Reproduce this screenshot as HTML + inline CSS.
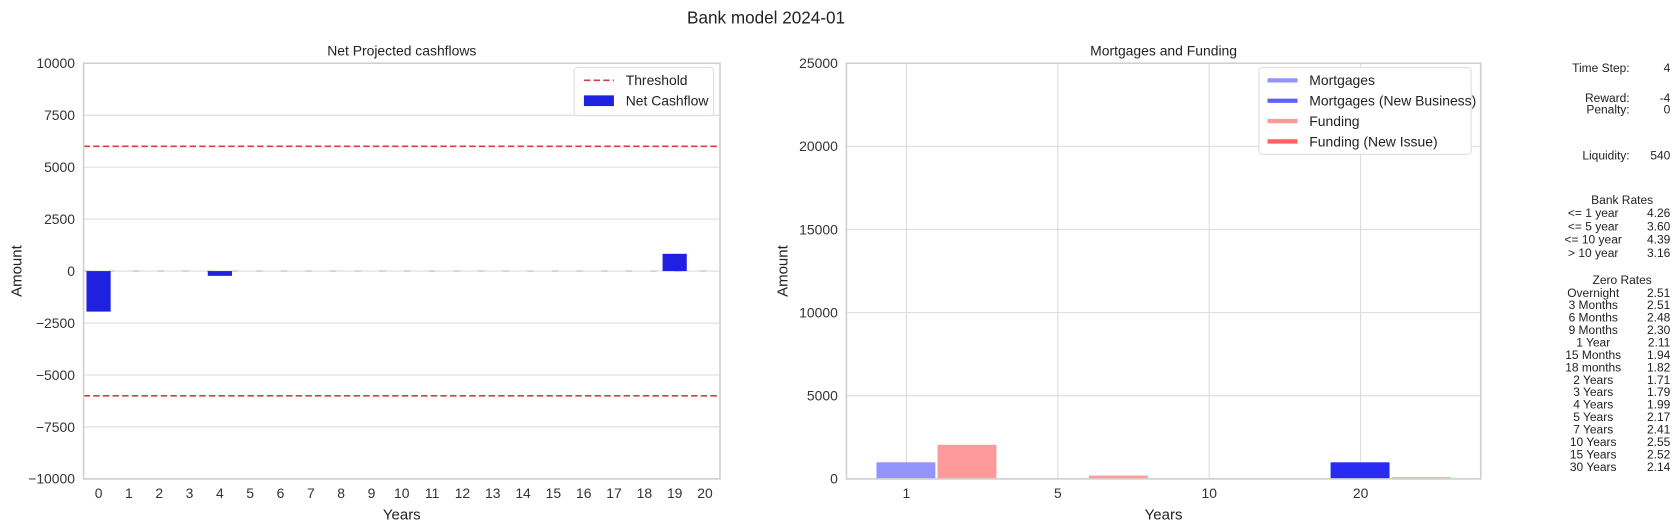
<!DOCTYPE html>
<html><head><meta charset="utf-8"><style>
body{margin:0;background:#fff;}
svg{font-family:"Liberation Sans",sans-serif;display:block;}
</style></head><body>
<svg id="s" width="1680" height="531" viewBox="0 0 1568 495.6" preserveAspectRatio="none" xmlns="http://www.w3.org/2000/svg">
<text x="715" y="22" font-size="16" text-anchor="middle" fill="#222">Bank model 2024-01</text>
<g id="left"></g>
<g id="right"></g>
<g id="panel"></g>
</svg>
<script>
const netYears=[0,1,2,3,4,5,6,7,8,9,10,11,12,13,14,15,16,17,18,19,20];
const netValues=[-1950,0,0,0,-230,0,0,0,0,0,0,0,0,0,0,0,0,0,0,830,0];
const leftTicks=[10000,7500,5000,2500,0,-2500,-5000,-7500,-10000];
const thresholds=[6000,-6000];
const rCats=["1","5","10","20"];
const mortgages=[1000,0,0,0];
const mortgagesNew=[0,0,0,1000];
const funding=[2050,200,0,100];
const fundingNew=[0,0,0,0];
const rightTicks=[25000,20000,15000,10000,5000,0];
const stats=[["Time Step:","4",63],["Reward:","-4",91],["Penalty:","0",102],["Liquidity:","540",145]];
const bankLabels=["<= 1 year","<= 5 year","<= 10 year","> 10 year"];
const bankRates=["4.26","3.60","4.39","3.16"];
const zeroLabels=["Overnight","3 Months","6 Months","9 Months","1 Year","15 Months","18 months","2 Years","3 Years","4 Years","5 Years","7 Years","10 Years","15 Years","30 Years"];
const zeroRates=["2.51","2.51","2.48","2.30","2.11","1.94","1.82","1.71","1.79","1.99","2.17","2.41","2.55","2.52","2.14"];
const NS="http://www.w3.org/2000/svg";
function mk(p,t,a,txt){const e=document.createElementNS(NS,t);for(const k in a)e.setAttribute(k,a[k]);if(txt!==undefined)e.textContent=txt;p.appendChild(e);return e;}
// LEFT
const L=document.getElementById('left');
const lx0=78,lx1=672,ly0=59,ly1=447;
const ly=v=>ly0+(10000-v)/20000*(ly1-ly0);
const lxc=i=>92+i*(658-92)/20;
mk(L,'text',{x:375,y:52,'font-size':13,'text-anchor':'middle',fill:'#222'},'Net Projected cashflows');
leftTicks.forEach(t=>{
 const g=mk(L,'line',{x1:lx0,x2:lx1,y1:ly(t),y2:ly(t),stroke:'#dcdcdc','stroke-width':1});
 
 
 const tx=mk(L,'text',{x:lx0-8,y:ly(t)+4.5,'font-size':13,'text-anchor':'end',fill:'#333'},t<0?'\u2212'+(-t):String(t));
 
 
});
mk(L,'line',{x1:lx0,x2:lx1,y1:ly(0),y2:ly(0),stroke:'#d0d0d0','stroke-width':1.5,'stroke-dasharray':'6 17'});
thresholds.forEach(t=>{
 const l=mk(L,'line',{x1:lx0,x2:lx1,y1:ly(t),y2:ly(t),stroke:'#d04040','stroke-width':1.5,'stroke-dasharray':'6 3'});
 
 
});
netYears.forEach((y,i)=>{
 const v=netValues[i];
 if(v!==0){
  const b=mk(L,'rect',{x:lxc(i)-11.3,width:22.6,y:Math.min(ly(v),ly(0)),height:Math.abs(ly(v)-ly(0)),fill:'#2020e0'});
  
  
 }
 const t=mk(L,'text',{x:lxc(i),y:ly1+18,'font-size':13,'text-anchor':'middle',fill:'#333'},String(y));
 
 
});
mk(L,'rect',{x:lx0,y:ly0,width:lx1-lx0,height:ly1-ly0,fill:'none',stroke:'#d0d0d0','stroke-width':1.5});
mk(L,'text',{x:375,y:485,'font-size':14,'text-anchor':'middle',fill:'#222'},'Years');
mk(L,'text',{x:20,y:253,'font-size':14,'text-anchor':'middle',fill:'#222',transform:'rotate(-90 20 253)'},'Amount');
const lg=mk(L,'g',{});
mk(lg,'rect',{x:536,y:63,width:130,height:45,rx:3,fill:'#fff',stroke:'#ddd'});
mk(lg,'line',{x1:545,x2:573,y1:75,y2:75,stroke:'#d04040','stroke-width':1.5,'stroke-dasharray':'6 3'});
mk(lg,'text',{x:584,y:79.5,'font-size':13,fill:'#222'},'Threshold');
mk(lg,'rect',{x:545,y:89,width:28,height:10,fill:'#2020e0'});
mk(lg,'text',{x:584,y:98.5,'font-size':13,fill:'#222'},'Net Cashflow');
// RIGHT
const R=document.getElementById('right');
const rx0=790,rx1=1382,ry0=59,ry1=447;
const ry=v=>ry1-v/25000*(ry1-ry0);
const rxc=i=>846+i*141.3;
mk(R,'text',{x:1086,y:52,'font-size':13,'text-anchor':'middle',fill:'#222'},'Mortgages and Funding');
rightTicks.forEach(t=>{
 mk(R,'line',{x1:rx0,x2:rx1,y1:ry(t),y2:ry(t),stroke:'#dcdcdc','stroke-width':1});
 const tx=mk(R,'text',{x:rx0-8,y:ry(t)+4.5,'font-size':13,'text-anchor':'end',fill:'#333'},String(t));
 
 
});
rCats.forEach((c,i)=>{
 mk(R,'line',{x1:rxc(i),x2:rxc(i),y1:ry0,y2:ry1,stroke:'#dcdcdc','stroke-width':1});
 const t=mk(R,'text',{x:rxc(i),y:ry1+18,'font-size':13,'text-anchor':'middle',fill:'#333'},c);
 
 
});
function rbar(v,x,col,name){if(v<=0)return;const b=mk(R,'rect',{x:x,width:55,y:ry(v),height:ry1-ry(v),fill:col});}
rCats.forEach((c,i)=>{
 rbar(mortgages[i],rxc(i)-28,'#9494ff','mortgage-bar');
 rbar(mortgagesNew[i],rxc(i)-28,'#2a2af5','mortgage-new-bar');
 rbar(funding[i],rxc(i)+29,'#ff9a9a','funding-bar');
 rbar(fundingNew[i],rxc(i)+29,'#ff5555','funding-new-bar');
});
mk(R,'rect',{x:rx0,y:ry0,width:rx1-rx0,height:ry1-ry0,fill:'none',stroke:'#d0d0d0','stroke-width':1.5});
mk(R,'text',{x:1086,y:485,'font-size':14,'text-anchor':'middle',fill:'#222'},'Years');
mk(R,'text',{x:735,y:253,'font-size':14,'text-anchor':'middle',fill:'#222',transform:'rotate(-90 735 253)'},'Amount');
const rg=mk(R,'g',{});
mk(rg,'rect',{x:1175,y:63,width:198,height:81,rx:3,fill:'#fff',stroke:'#ddd'});
[['Mortgages','#9494ff'],['Mortgages (New Business)','#6060ff'],['Funding','#ff9a9a'],['Funding (New Issue)','#ff6060']].forEach((e,i)=>{
 const y=75+i*19;
 mk(rg,'line',{x1:1183,x2:1211,y1:y,y2:y,stroke:e[1],'stroke-width':4});
 mk(rg,'text',{x:1222,y:y+4.5,'font-size':13,fill:'#222'},e[0]);
});
// PANEL
const P=document.getElementById('panel');
stats.forEach(s=>{
 mk(P,'text',{x:1521,y:s[2]+4,'font-size':11.2,'text-anchor':'end',fill:'#222'},s[0]);
 mk(P,'text',{x:1559,y:s[2]+4,'font-size':11.2,'text-anchor':'end',fill:'#222'},s[1]);
});
mk(P,'text',{x:1514,y:190.5,'font-size':11.2,'text-anchor':'middle',fill:'#222'},'Bank Rates');
bankLabels.forEach((b,i)=>{
 mk(P,'text',{x:1487,y:202.5+i*12.5,'font-size':11.2,'text-anchor':'middle',fill:'#222'},b);
 mk(P,'text',{x:1559,y:202.5+i*12.5,'font-size':11.2,'text-anchor':'end',fill:'#222'},bankRates[i]);
});
mk(P,'text',{x:1514,y:265,'font-size':11.2,'text-anchor':'middle',fill:'#222'},'Zero Rates');
zeroLabels.forEach((b,i)=>{
 mk(P,'text',{x:1487,y:277+i*11.6,'font-size':11.2,'text-anchor':'middle',fill:'#222'},b);
 mk(P,'text',{x:1559,y:277+i*11.6,'font-size':11.2,'text-anchor':'end',fill:'#222'},zeroRates[i]);
});
</script>
</body></html>
